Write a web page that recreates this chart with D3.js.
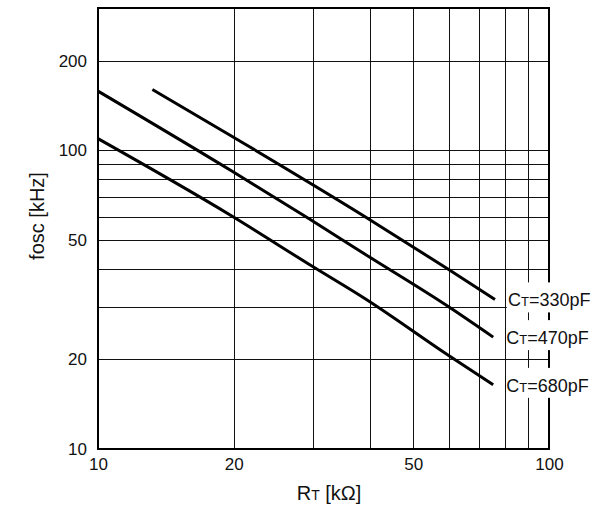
<!DOCTYPE html>
<html>
<head>
<meta charset="utf-8">
<script src="https://cdn.jsdelivr.net/npm/d3@7"></script>
<style>
  body { margin: 0; background: #fff; }
  svg { font-family: "Liberation Sans", Arial, sans-serif; }
</style>
</head>
<body>
<svg id="chart" width="610" height="510"></svg>
<script>
// data
const xTicks = [10, 20, 50, 100];
const yTicks = [10, 20, 50, 100, 200];
const xGrid = [20, 30, 40, 50, 60, 70, 80, 90];
const yGrid = [20, 30, 40, 50, 60, 70, 80, 90, 100, 200];

const rt330 = [13.2, 19.8, 39.1, 59.8, 75.9];
const f330 = [160, 111.6, 60, 40, 31.7];
const rt470 = [10, 19.8, 29.5, 39.1, 59.8, 75.2];
const f470 = [158, 85.3, 58.8, 44.9, 30, 23.7];
const rt680 = [10, 19.8, 29.8, 39.2, 59.8, 75.2];
const f680 = [109.5, 60.3, 41, 31.8, 20.6, 16.4];

const seriesLabels = ["330pF", "470pF", "680pF"];

const svg = d3.select("#chart");
const plotL = 98, plotR = 549, plotT = 8, plotB = 449;

const x = d3.scaleLog().domain([10, 100]).range([plotL, plotR]);
const y = d3.scaleLog().domain([10, 300]).range([plotB, plotT]);

// grid
const grid = svg.append("g").attr("stroke", "#111").attr("stroke-width", 1).attr("shape-rendering", "crispEdges");
grid.selectAll(".vx").data(xGrid).join("line")
  .attr("x1", d => Math.round(x(d)) + 0.5).attr("x2", d => Math.round(x(d)) + 0.5)
  .attr("y1", plotT).attr("y2", plotB);
grid.selectAll(".hy").data(yGrid).join("line")
  .attr("y1", d => Math.round(y(d)) + 0.5).attr("y2", d => Math.round(y(d)) + 0.5)
  .attr("x1", plotL).attr("x2", plotR);

// frame
svg.append("rect")
  .attr("x", plotL).attr("y", plotT)
  .attr("width", plotR - plotL).attr("height", plotB - plotT)
  .attr("fill", "none").attr("stroke", "#000").attr("stroke-width", 2);

// curves
const line = d3.line()
  .x(d => x(d[0]))
  .y(d => y(d[1]))
  .curve(d3.curveMonotoneX);

const series = [
  d3.zip(rt330, f330),
  d3.zip(rt470, f470),
  d3.zip(rt680, f680)
];

svg.append("g").selectAll("path").data(series).join("path")
  .attr("d", line)
  .attr("fill", "none")
  .attr("stroke", "#000")
  .attr("stroke-width", 3);

// labels with white boxes over the grid
series.forEach(function (s, i) {
  const end = s[s.length - 1];
  const bx = x(end[0]) + 13;
  const by = y(end[1]) + 7;
  svg.append("rect")
    .attr("x", x(80) + 1.5).attr("y", by - 24)
    .attr("width", 100).attr("height", 30)
    .attr("fill", "#fff");
  const t = svg.append("text")
    .attr("x", bx).attr("y", by)
    .attr("font-size", 18).attr("fill", "#111");
  t.append("tspan").text("C");
  t.append("tspan").attr("font-size", 13).text("T");
  t.append("tspan").text("=" + seriesLabels[i]);
});

// axes (labels only)
const xAxis = svg.append("g")
  .attr("transform", "translate(0," + plotB + ")")
  .call(d3.axisBottom(x).tickValues(xTicks).tickFormat(d3.format("d")).tickSize(0).tickPadding(9));
const yAxis = svg.append("g")
  .attr("transform", "translate(" + plotL + ",0)")
  .call(d3.axisLeft(y).tickValues(yTicks).tickFormat(d3.format("d")).tickSize(0).tickPadding(11));
[xAxis, yAxis].forEach(function (a) {
  a.select(".domain").remove();
  a.attr("font-family", null).attr("font-size", 17);
  a.selectAll("text").attr("fill", "#111");
});

// axis titles
const xt = svg.append("text")
  .attr("x", 329).attr("y", 500)
  .attr("text-anchor", "middle").attr("font-size", 20).attr("fill", "#111");
xt.append("tspan").text("R");
xt.append("tspan").attr("font-size", 14).text("T");
xt.append("tspan").text(" [k\u03A9]");

svg.append("text")
  .attr("transform", "translate(44,216) rotate(-90)")
  .attr("text-anchor", "middle").attr("font-size", 20).attr("fill", "#111")
  .text("fosc [kHz]");
</script>
</body>
</html>
